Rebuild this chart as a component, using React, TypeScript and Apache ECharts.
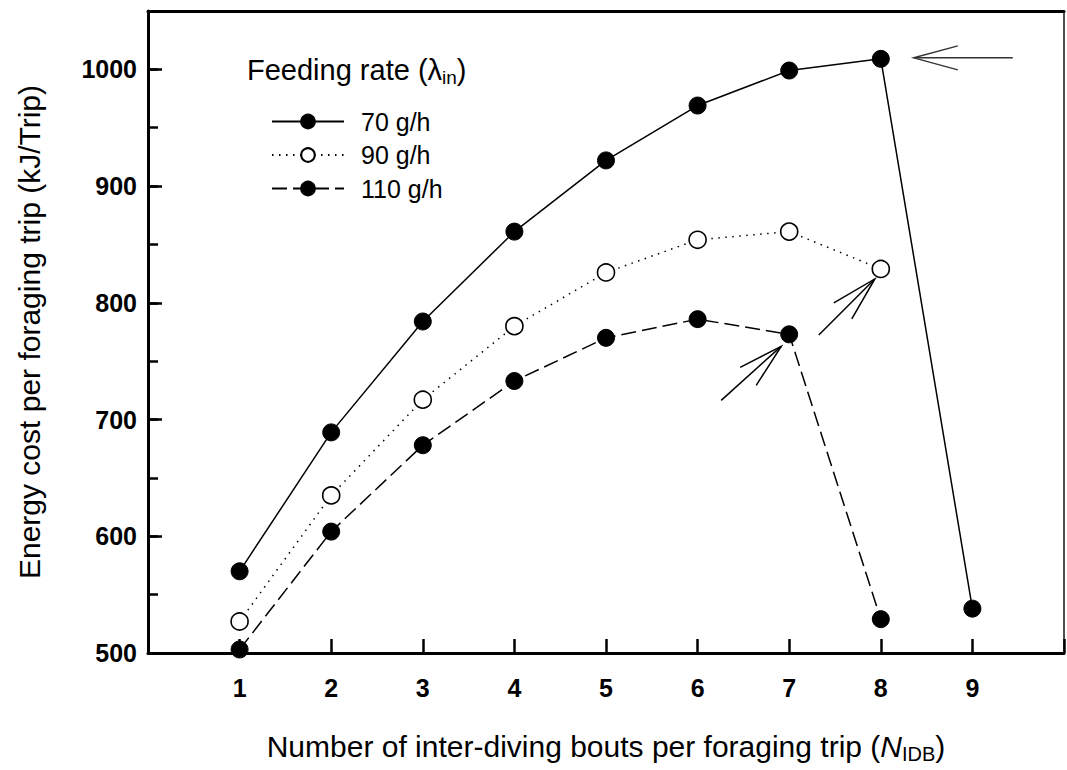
import React, { useEffect, useRef } from "react";
import * as echarts from "echarts";

const bouts = [1, 2, 3, 4, 5, 6, 7, 8, 9];
const rate70 = [570, 689, 784, 861, 922, 969, 999, 1009, 538];
const rate90 = [527, 635, 717, 780, 826, 854, 861, 829];
const rate110 = [503, 604, 678, 733, 770, 786, 773, 529];
const seriesNames = ["70 g/h", "90 g/h", "110 g/h"];
const yTicks = [500, 600, 700, 800, 900, 1000];

const FONT = "'Liberation Sans', Arial, Helvetica, sans-serif";

export default function App() {
  const ref = useRef<HTMLDivElement>(null);
  useEffect(() => {
    document.body.style.margin = "0";
    const chart = echarts.init(ref.current!, undefined, { renderer: "svg" });
    const pair = (arr: number[]) => arr.map((v, i) => [bouts[i], v]);
    const option: any = {
      animation: false,
      backgroundColor: "#fff",
      textStyle: { fontFamily: FONT },
      grid: {
        left: 148,
        right: 2,
        top: 11,
        bottom: 117,
        show: true,
        borderColor: "#444",
        borderWidth: 1.5,
      },
      legend: {
        orient: "vertical",
        left: 266,
        top: 104,
        itemWidth: 72,
        itemHeight: 17,
        itemGap: 8.5,
        data: seriesNames,
        textStyle: { fontSize: 25, color: "#000", fontFamily: FONT, padding: [0, 0, 0, 12] },
      },
      xAxis: [
        {
          type: "value",
          min: 0,
          max: 10,
          interval: 1,
          position: "bottom",
          axisLine: { lineStyle: { color: "#000", width: 3 } },
          axisTick: { inside: true, length: 14, lineStyle: { color: "#000", width: 2.5 } },
          splitLine: { show: false },
          axisLabel: {
            margin: 22,
            fontSize: 25,
            fontWeight: "bold",
            color: "#000",
            fontFamily: FONT,
            formatter: (v: number) => (bouts.indexOf(v) >= 0 ? String(v) : ""),
          },
          name: "Number of inter-diving bouts per foraging trip ({i|N}{sub|IDB}{n|)}",
          nameLocation: "middle",
          nameGap: 76,
          nameTextStyle: {
            fontSize: 30,
            color: "#000",
            fontFamily: FONT,
            rich: {
              i: { fontSize: 30, fontStyle: "italic", color: "#000", fontFamily: FONT },
              sub: { fontSize: 20, color: "#000", fontFamily: FONT, padding: [15, 0, 0, 0] },
              n: { fontSize: 30, color: "#000", fontFamily: FONT },
            },
          },
        },
        {
          type: "value",
          min: 0,
          max: 10,
          position: "top",
          axisLine: { lineStyle: { color: "#000", width: 3 } },
          axisTick: { show: false },
          axisLabel: { show: false },
          splitLine: { show: false },
        },
      ],
      yAxis: [
        {
          type: "value",
          min: 500,
          max: 1050,
          interval: 100,
          position: "left",
          axisLine: { show: true, lineStyle: { color: "#000", width: 3 } },
          axisTick: { show: true, inside: true, length: 14, lineStyle: { color: "#000", width: 2.5 } },
          splitLine: { show: false },
          axisLabel: {
            margin: 11,
            fontSize: 25,
            fontWeight: "bold",
            color: "#000",
            fontFamily: FONT,
            formatter: (v: number) => (yTicks.indexOf(v) >= 0 ? String(v) : ""),
          },
          name: "Energy cost per foraging trip (kJ/Trip)",
          nameLocation: "middle",
          nameGap: 104,
          nameTextStyle: { fontSize: 30, color: "#000", fontFamily: FONT },
        },
        {
          type: "value",
          min: 500,
          max: 1050,
          interval: 50,
          position: "left",
          axisLine: { show: false },
          axisTick: { show: true, inside: true, length: 10, lineStyle: { color: "#000", width: 2.5 } },
          axisLabel: { show: false },
          splitLine: { show: false },
        },
        {
          type: "value",
          min: 500,
          max: 1050,
          position: "right",
          axisLine: { show: true, lineStyle: { color: "#444", width: 1.5 } },
          axisTick: { show: false },
          axisLabel: { show: false },
          splitLine: { show: false },
        },
      ],
      series: [
        {
          name: seriesNames[0],
          type: "line",
          data: pair(rate70),
          symbol: "circle",
          symbolSize: 17,
          itemStyle: { color: "#000", borderColor: "#000", borderWidth: 1 },
          lineStyle: { color: "#000", width: 1.5, type: "solid" },
          z: 3,
        },
        {
          name: seriesNames[1],
          type: "line",
          data: pair(rate90),
          symbol: "circle",
          symbolSize: 17,
          itemStyle: { color: "#fff", borderColor: "#000", borderWidth: 1.6 },
          lineStyle: { color: "#000", width: 1.5, type: [1.5, 5.5] },
          z: 3,
        },
        {
          name: seriesNames[2],
          type: "line",
          data: pair(rate110),
          symbol: "circle",
          symbolSize: 17,
          itemStyle: { color: "#000", borderColor: "#000", borderWidth: 1 },
          lineStyle: { color: "#000", width: 1.5, type: [15, 6] },
          z: 3,
        },
      ],
    };
    chart.setOption(option);

    const px = (x: number, y: number) =>
      chart.convertToPixel({ xAxisIndex: 0, yAxisIndex: 0 }, [x, y]) as number[];
    const arrow = (
      tip: number[],
      tail: number[],
      h1: number[],
      h2: number[],
      color: string
    ) => [
      {
        type: "line",
        shape: { x1: tail[0], y1: tail[1], x2: tip[0], y2: tip[1] },
        style: { stroke: color, lineWidth: 1.5 },
        z: 10,
      },
      {
        type: "polyline",
        shape: { points: [h1, tip, h2] },
        style: { stroke: color, lineWidth: 1.5, fill: null },
        z: 10,
      },
    ];
    const p1 = px(bouts[7], rate70[7]);
    const t1 = [p1[0] + 33, p1[1] - 1];
    const p2 = px(bouts[7], rate90[7]);
    const t2 = [p2[0] - 6, p2[1] + 10];
    const p3 = px(bouts[6], rate110[6]);
    const t3 = [p3[0] - 8, p3[1] + 12];
    const rel = (t: number[], dx: number, dy: number) => [t[0] + dx, t[1] + dy];

    chart.setOption({
      graphic: [
        ...arrow(t1, rel(t1, 99, 0), rel(t1, 44, -12), rel(t1, 44, 12), "#333"),
        ...arrow(t2, rel(t2, -56, 56), rel(t2, -41, 24), rel(t2, -23, 40), "#000"),
        ...arrow(t3, rel(t3, -60, 54), rel(t3, -41, 21), rel(t3, -25, 39), "#000"),
        {
          type: "text",
          left: 247,
          top: 55,
          style: {
            text: "{a|Feeding rate (λ}{sub|in}{a|)}",
            rich: {
              a: { fontSize: 29, fill: "#000", fontFamily: FONT },
              sub: { fontSize: 19, fill: "#000", fontFamily: FONT, padding: [15, 0, 0, 0] },
            },
          },
          z: 10,
        },
      ],
    });

    return () => chart.dispose();
  }, []);
  return <div ref={ref} style={{ width: 1067, height: 770 }} />;
}
